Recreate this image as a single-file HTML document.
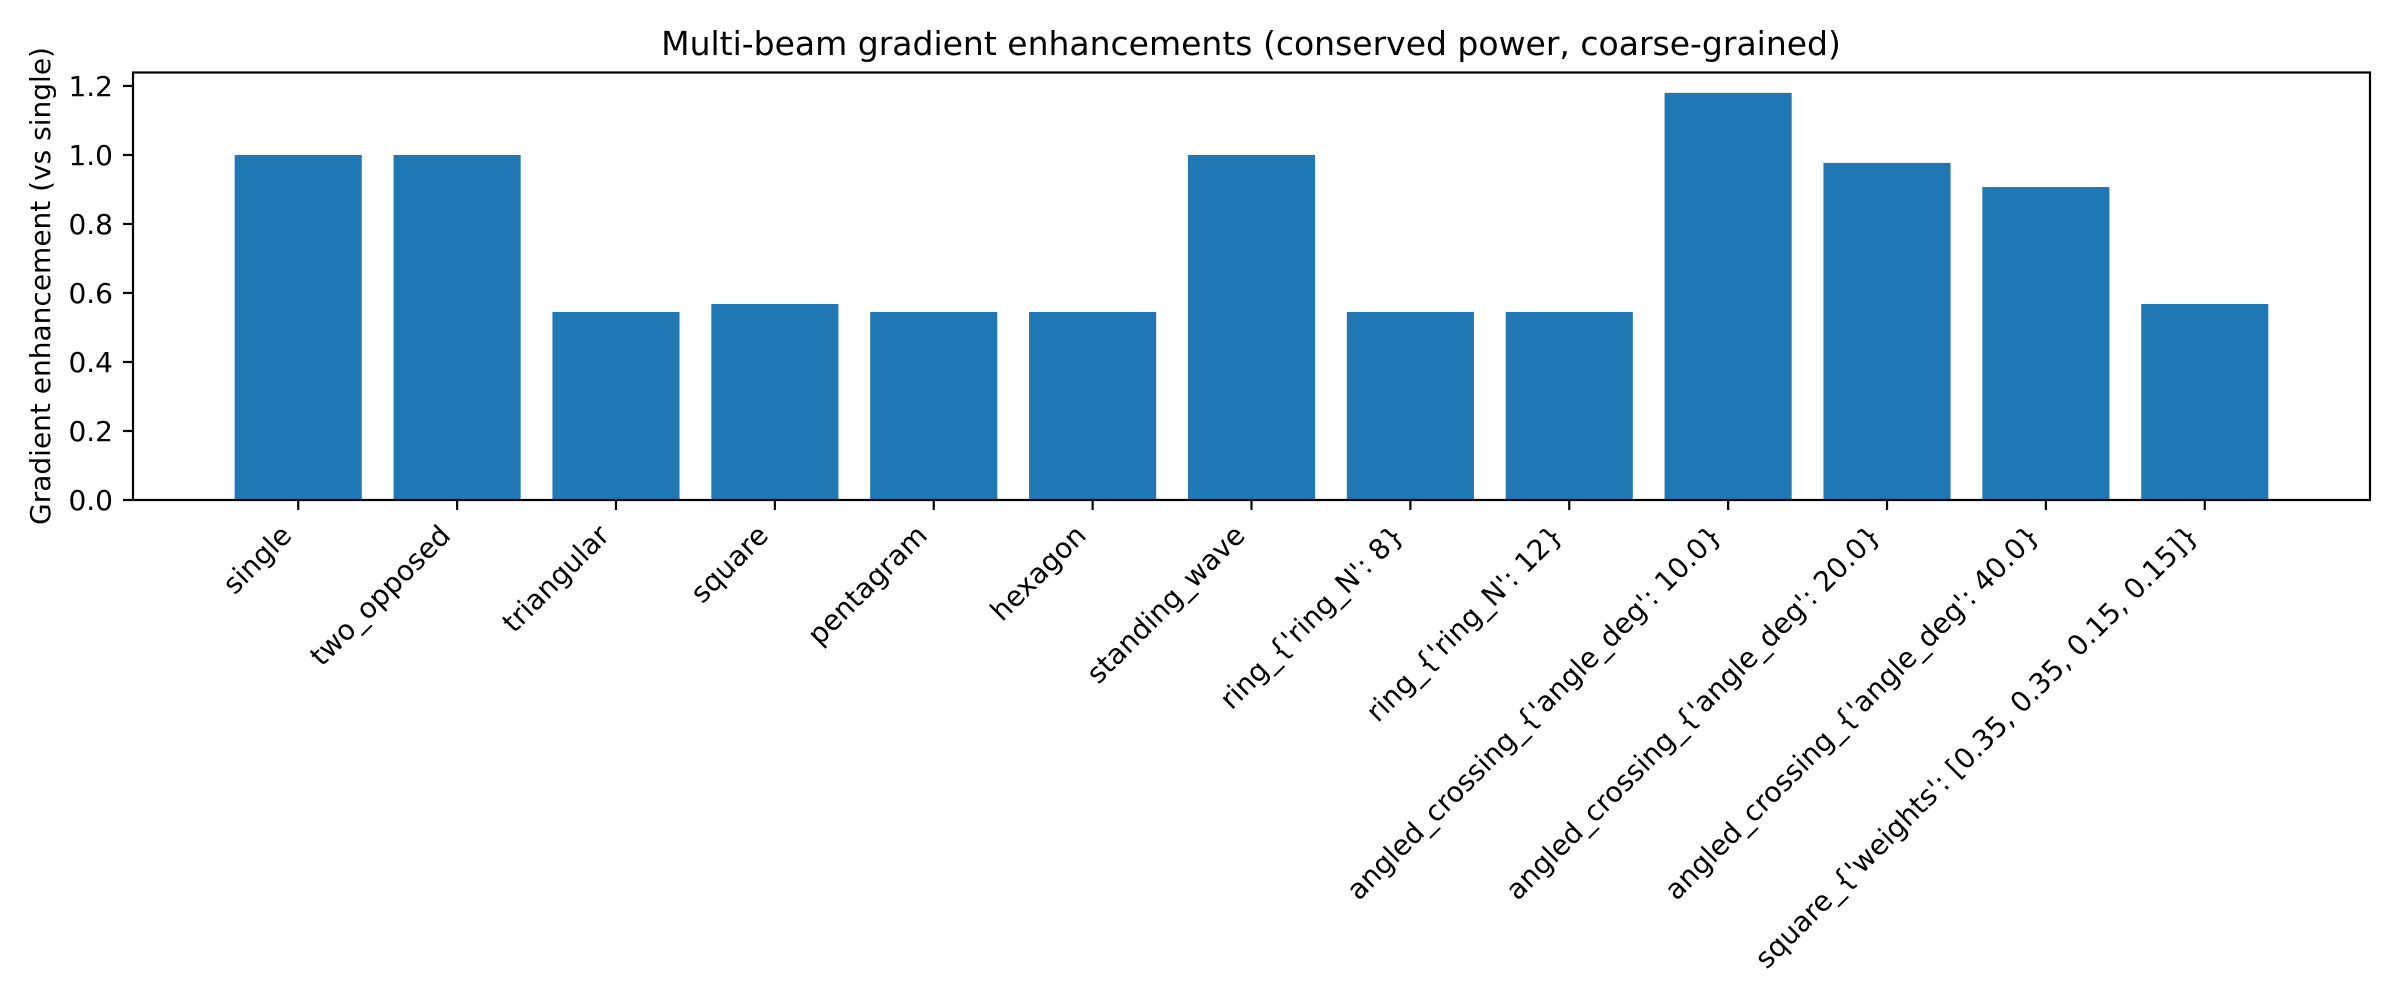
<!DOCTYPE html>
<html><head><meta charset="utf-8"><style>
html,body{margin:0;padding:0;background:#fff}
svg{display:block;font-family:"DejaVu Sans","Liberation Sans",sans-serif}
</style></head><body>
<svg id="chart" width="2400" height="1000" viewBox="0 0 2400 1000" xmlns="http://www.w3.org/2000/svg">
<rect x="0" y="0" width="2400" height="1000" fill="#fff"/>
<text x="1251" y="55" font-size="33" text-anchor="middle" fill="#000">Multi-beam gradient enhancements (conserved power, coarse-grained)</text>
<text transform="translate(50,286) rotate(-90)" font-size="28" text-anchor="middle" fill="#000">Gradient enhancement (vs single)</text>
<g id="bars"></g>
<g id="yticks"></g>
<g id="xticks"></g>
<rect x="133" y="72.5" width="2237" height="427.5" fill="none" stroke="#000" stroke-width="2.2"/>
</svg>
<script>
const categories = ["single","two_opposed","triangular","square","pentagram","hexagon","standing_wave","ring_{'ring_N': 8}","ring_{'ring_N': 12}","angled_crossing_{'angle_deg': 10.0}","angled_crossing_{'angle_deg': 20.0}","angled_crossing_{'angle_deg': 40.0}","square_{'weights': [0.35, 0.35, 0.15, 0.15]}"];
const values = [1.0, 1.0, 0.545, 0.568, 0.545, 0.545, 1.0, 0.545, 0.545, 1.18, 0.977, 0.907, 0.568];
const yTickValues = [0, 0.2, 0.4, 0.6, 0.8, 1.0, 1.2];
const yTickLabels = ["0.0","0.2","0.4","0.6","0.8","1.0","1.2"];

const NS = "http://www.w3.org/2000/svg";
const L = 133, R = 2370, T = 72.5, B = 500;
const n = categories.length;
const xmin = -0.4 - 0.05 * (n - 1 + 0.8), xmax = n - 1 + 0.4 + 0.05 * (n - 1 + 0.8);
const ymax = Math.max(...values) * 1.05;
const xs = v => L + (v - xmin) / (xmax - xmin) * (R - L);
const ys = v => B - v / ymax * (B - T);
function mk(tag, attrs) { const e = document.createElementNS(NS, tag); for (const k in attrs) e.setAttribute(k, attrs[k]); return e; }

const gb = document.getElementById('bars');
values.forEach((v, i) => {
  const x0 = xs(i - 0.4), x1 = xs(i + 0.4);
  const r = mk('rect', {x: x0, y: ys(v), width: x1 - x0, height: B - ys(v), fill: '#1f77b4'});
  
  
  gb.appendChild(r);
});

const gy = document.getElementById('yticks');
yTickValues.forEach((v, i) => {
  const y = ys(v);
  const l = mk('line', {x1: L - 10, x2: L, y1: y, y2: y, stroke: '#000', 'stroke-width': 2.2});
  
  
  gy.appendChild(l);
  const t = mk('text', {x: L - 20, y: y + 10, 'font-size': 28, 'text-anchor': 'end', fill: '#000'});
  t.textContent = yTickLabels[i];
  
  
  gy.appendChild(t);
});

const gx = document.getElementById('xticks');
categories.forEach((c, i) => {
  const x = xs(i);
  const l = mk('line', {x1: x, x2: x, y1: B, y2: B + 10, stroke: '#000', 'stroke-width': 2.2});
  
  
  gx.appendChild(l);
  const ex = x - 5, ey = B + 19 + 18;
  const t = mk('text', {x: 0, y: 0, 'font-size': 28, 'text-anchor': 'end', fill: '#000', transform: 'translate(' + ex + ',' + ey + ') rotate(-45)'});
  t.textContent = c;
  
  
  gx.appendChild(t);
});
</script>
</body></html>
